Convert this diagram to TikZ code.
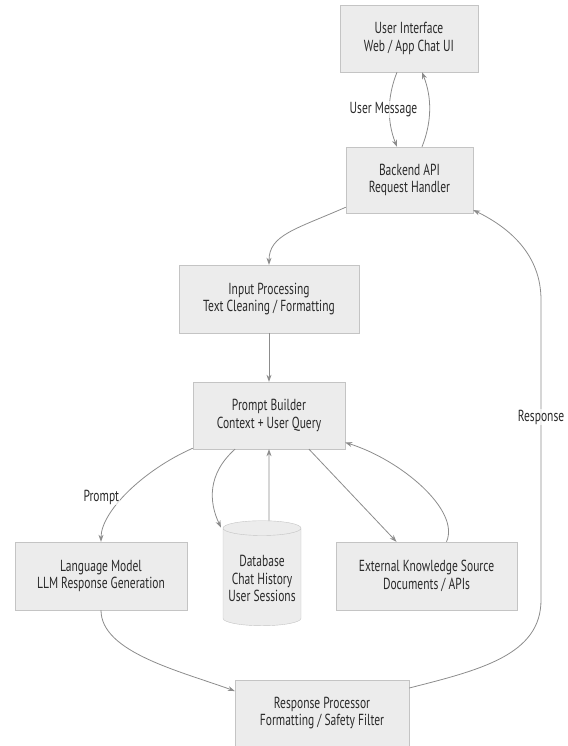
\documentclass[tikz,border=0pt]{standalone}
\usepackage{fontspec}
\setmainfont{PT Sans}[FakeStretch=0.72]
\usetikzlibrary{arrows.meta,calc,shapes.geometric}
\definecolor{FlowFill}{HTML}{ECECEC}
\definecolor{FlowEdge}{HTML}{C4C4C4}
\definecolor{FlowLine}{HTML}{8C8C8C}
\definecolor{FlowText}{HTML}{2A2A2A}
\tikzset{block/.style={draw=FlowEdge,fill=FlowFill,align=center,minimum height=67,text=FlowText,font=\fontsize{16}{17.5}\selectfont},
dbase/.style={block,cylinder,shape border rotate=90,aspect=0.2,minimum width=78,minimum height=105},
arr/.style={-{Stealth[length=7pt,width=5pt]},FlowLine,line width=0.8pt},
elabel/.style={fill=white,fill opacity=0.7,text opacity=1,text=FlowText,inner sep=1pt,font=\fontsize{16}{17.5}\selectfont}}
\begin{document}
\begin{tikzpicture}[x=1pt,y=-1pt]
\useasboundingbox (0,0) rectangle (567,746);
\node[block,minimum width=138] (ui) at (409,38.5) {User Interface\\Web / App Chat UI};
\node[block,minimum width=127,minimum height=66] (backend) at (409.5,180) {Backend API\\Request Handler};
\node[block,minimum width=180,minimum height=68] (input) at (269,299) {Input Processing\\Text Cleaning / Formatting};
\node[block,minimum width=152] (prompt) at (269,415.5) {Prompt Builder\\Context + User Query};
\node[block,minimum width=172,minimum height=68] (llm) at (101,576) {Language Model\\LLM Response Generation};
\node[dbase] (db) at (262,578.5) {Database\\Chat History\\User Sessions};
\node[block,minimum width=181,minimum height=68] (ext) at (426.5,576) {External Knowledge Source\\Documents / APIs};
\node[block,minimum width=174,minimum height=66] (rp) at (322,713) {Response Processor\\Formatting / Safety Filter};
% request path
\draw[arr] ($(ui.south)+(-12,0)$) .. controls +(-10,25) and +(-10,-25) .. node[elabel,xshift=-6pt] {User Message} ($(backend.north)+(-12.5,0)$);
\draw[arr] ($(backend.north)+(12.5,0)$) .. controls +(10,-25) and +(10,25) .. ($(ui.south)+(13,0)$);
\draw[arr] ($(backend.south west)+(0,-6)$) .. controls +(-50,22) and +(0,-30) .. (input.north);
\draw[arr] (input.south) -- (prompt.south |- prompt.north);
% context sources
\draw[arr] ($(prompt.south west)+(0,-1)$) .. controls +(-50,22) and +(0,-30) .. node[elabel,pos=0.55,xshift=-22pt] {Prompt} (llm.north);
\draw[arr] ($(prompt.south)+(-34,0)$) .. controls +(-28,25) and +(-12,-25) .. ($(db.north)+(-41,7)$);
\draw[arr] ($(db.north)+(7,0)$) -- (prompt.south);
\draw[arr] ($(prompt.south)+(40,0)$) -- ($(ext.north)+(-30,0)$);
\draw[arr] ($(ext.north)+(20,0)$) .. controls +(14,-32) and +(55,17) .. ($(prompt.east)+(0,27)$);
% answer path
\draw[arr] (llm.south) .. controls +(0,42) and +(-55,-20) .. ($(rp.west)+(0,-22)$);
\draw[arr] ($(rp.east)+(0,-25)$) .. controls (480,670) and (541,655) .. (541,600) -- node[elabel,pos=0.61] {Response} (541,300) .. controls (541,255) and (510,228) .. ($(backend.east)+(0,30)$);
\end{tikzpicture}
\end{document}
